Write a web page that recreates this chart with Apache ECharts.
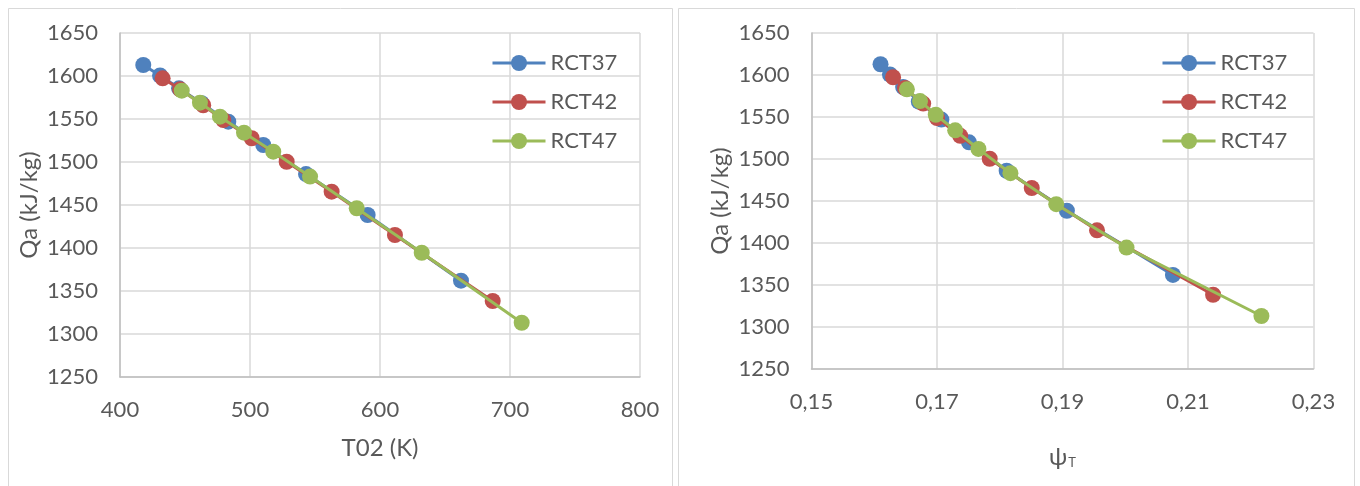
<!DOCTYPE html>
<html>
<head>
<meta charset="utf-8">
<script src="https://cdn.jsdelivr.net/npm/echarts@6/dist/echarts.min.js"></script>
<style>
  html, body { margin: 0; padding: 0; background: #ffffff; }
  #chart { width: 1360px; height: 486px; }
</style>
</head>
<body>
<div id="chart"></div>
<script>
// Heat added Qa (kJ/kg) for three rotor configurations
const seriesNames = ['RCT37', 'RCT42', 'RCT47'];
const seriesColors = ['#4F81BD', '#C0504D', '#9BBB59'];

const qaRCT37 = [1612.8, 1600.6, 1585.7, 1568.3, 1546.9, 1519.8, 1486.0, 1438.4, 1362.0];
const qaRCT42 = [1597.3, 1584.5, 1566.0, 1548.8, 1527.6, 1500.3, 1465.5, 1415.1, 1338.4];
const qaRCT47 = [1582.9, 1569.0, 1552.7, 1534.1, 1512.0, 1483.1, 1446.2, 1394.5, 1313.1];

// Stagnation temperature T02 (K)
const t02RCT37 = [417.9, 430.8, 445.4, 462.8, 483.3, 510.2, 543.1, 590.5, 662.3];
const t02RCT42 = [432.8, 446.2, 464.0, 479.5, 501.3, 528.2, 562.8, 611.5, 686.7];
const t02RCT47 = [447.5, 461.5, 476.9, 495.4, 517.9, 546.2, 582.1, 632.1, 709.0];

// Temperature coefficient psi_T
const psiRCT37 = [0.1610, 0.1625, 0.1646, 0.1671, 0.1707, 0.1751, 0.1811, 0.1907, 0.2076];
const psiRCT42 = [0.1630, 0.1649, 0.1678, 0.1700, 0.1737, 0.1784, 0.1851, 0.1955, 0.2140];
const psiRCT47 = [0.1652, 0.1673, 0.1698, 0.1729, 0.1766, 0.1817, 0.1890, 0.2002, 0.2217];

// Axis ranges and ticks: [min, max, interval]
const qaTicks = [1250, 1650, 50];
const t02Ticks = [400, 800, 100];
const psiTicks = [0.15, 0.23, 0.02];

const FONT = 'Lato, "DejaVu Sans", sans-serif';
const TEXT = '#595959';
const GRID = '#D9D9D9';
const AXIS = '#BFBFBF';
const TICK_SIZE = 22;
const TITLE_SIZE = 24;

const qaSets = [qaRCT37, qaRCT42, qaRCT47];
const t02Sets = [t02RCT37, t02RCT42, t02RCT47];
const psiSets = [psiRCT37, psiRCT42, psiRCT47];

function pairs(xs, ys) { return xs.map((x, i) => [x, ys[i]]); }

function valueAxis(gridIndex, range, fmt, extra) {
  return Object.assign({
    type: 'value',
    gridIndex: gridIndex,
    min: range[0], max: range[1], interval: range[2],
    axisLine: { show: true, lineStyle: { color: AXIS, width: 1.5 } },
    axisTick: { show: false },
    splitLine: { show: true, lineStyle: { color: GRID, width: 1.5 } },
    axisLabel: { color: TEXT, fontFamily: FONT, fontSize: TICK_SIZE, margin: 22, formatter: fmt },
    nameLocation: 'middle',
    nameTextStyle: { color: TEXT, fontFamily: FONT, fontSize: TITLE_SIZE }
  }, extra || {});
}

function lineSeries(k, xIdx, yIdx, xs) {
  return {
    name: seriesNames[k],
    type: 'line',
    xAxisIndex: xIdx, yAxisIndex: yIdx,
    data: pairs(xs, qaSets[k]),
    symbol: 'circle', symbolSize: 16,
    color: seriesColors[k],
    lineStyle: { width: 3, color: seriesColors[k] },
    itemStyle: { color: seriesColors[k] },
    z: 2 + k,
    animation: false
  };
}

function legendAt(left) {
  return {
    orient: 'vertical',
    left: left, top: 52,
    padding: 0,
    itemWidth: 53, itemHeight: 20, itemGap: 17,
    lineStyle: { width: 3 },
    data: seriesNames,
    textStyle: { color: TEXT, fontFamily: FONT, fontSize: TICK_SIZE }
  };
}

const plainNumber = v => String(v);
const commaDecimal = v => v.toFixed(2).replace('.', ',');

const series = [];
for (let k = 0; k < 3; k++) series.push(lineSeries(k, 0, 0, t02Sets[k]));
for (let k = 0; k < 3; k++) series.push(lineSeries(k, 1, 1, psiSets[k]));

const chart = echarts.init(document.getElementById('chart'), null, { renderer: 'canvas' });
chart.setOption({
  backgroundColor: '#ffffff',
  animation: false,
  graphic: [
    { type: 'rect', shape: { x: 8.5, y: 8.5, width: 664, height: 490 },
      style: { fill: 'none', stroke: GRID, lineWidth: 1 }, z: -1 },
    { type: 'rect', shape: { x: 678.5, y: 8.5, width: 676, height: 490 },
      style: { fill: 'none', stroke: GRID, lineWidth: 1 }, z: -1 }
  ],
  grid: [
    { left: 120, top: 33, width: 520, height: 344 },
    { left: 811.5, top: 33, width: 502, height: 336 }
  ],
  legend: [legendAt(491), legendAt(1161)],
  xAxis: [
    valueAxis(0, t02Ticks, plainNumber, { name: 'T02 (K)', nameGap: 59 }),
    valueAxis(1, psiTicks, commaDecimal, {
      name: '{p|ψ}{s|T}', nameGap: 76,
      nameTextStyle: { color: TEXT, fontFamily: FONT, fontSize: TITLE_SIZE,
        rich: {
          p: { fontSize: 24, fontFamily: FONT, color: TEXT },
          s: { fontSize: 13, fontFamily: FONT, color: TEXT, verticalAlign: 'bottom', padding: [10, 0, 0, 1] }
        } }
    })
  ],
  yAxis: [
    valueAxis(0, qaTicks, plainNumber, { name: 'Qa (kJ/kg)', nameGap: 79 }),
    valueAxis(1, qaTicks, plainNumber, { name: 'Qa (kJ/kg)', nameGap: 79 })
  ],
  series: series
});
</script>
</body>
</html>
